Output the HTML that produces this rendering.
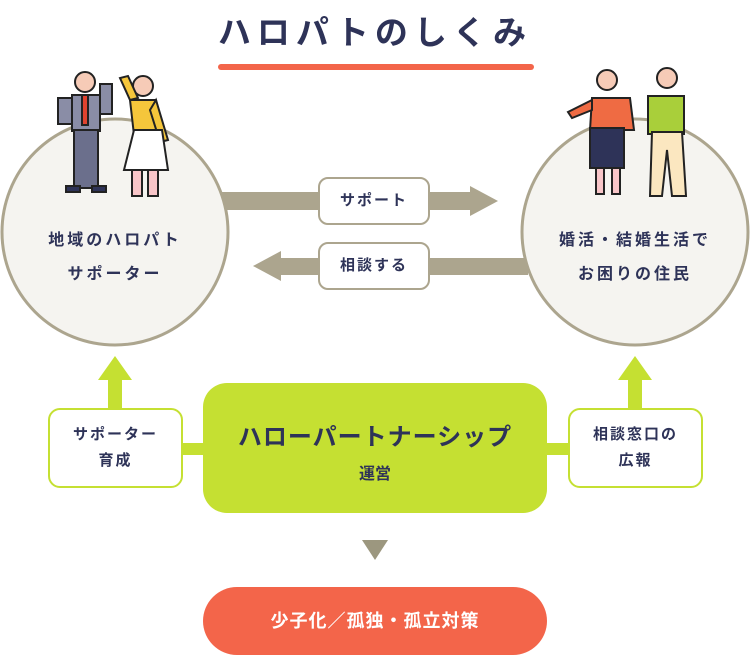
<!DOCTYPE html>
<html><head><meta charset="utf-8"><style>
body{margin:0;width:750px;height:658px;background:#fff;position:relative;overflow:hidden;font-family:"Liberation Sans","Noto Sans CJK JP",sans-serif;color:#2e3358;font-weight:bold}
.a{position:absolute}
.t{text-align:center}
</style></head><body>
<div class="a t" style="left:0;width:750px;top:6px;font-size:33px;letter-spacing:6px;color:#2e3358">ハロパトのしくみ</div>
<div class="a" style="left:218px;top:64px;width:316px;height:6px;border-radius:3px;background:#f3654a"></div>

<svg class="a" style="left:0;top:0" width="750" height="658">
 <rect x="222" y="192" width="250" height="18" fill="#aca58e"/>
 <polygon points="470,186 498,201 470,216" fill="#aca58e"/>
 <rect x="280" y="258" width="248" height="17" fill="#aca58e"/>
 <polygon points="281,251 253,266 281,281" fill="#aca58e"/>
 <circle cx="115" cy="232" r="113" fill="#f5f4f0" stroke="#aca58e" stroke-width="3"/>
 <circle cx="635" cy="232" r="113" fill="#f5f4f0" stroke="#aca58e" stroke-width="3"/>
 <rect x="180" y="443" width="30" height="12" fill="#c5e032"/>
 <rect x="540" y="443" width="32" height="12" fill="#c5e032"/>
 <rect x="108" y="378" width="14" height="32" fill="#c5e032"/>
 <polygon points="98,380 115,356 132,380" fill="#c5e032"/>
 <rect x="628" y="378" width="14" height="32" fill="#c5e032"/>
 <polygon points="618,380 635,356 652,380" fill="#c5e032"/>
 <polygon points="362,540 388,540 375,560" fill="#9c977f"/>
 <g stroke="#222" stroke-width="2">
  <circle cx="85" cy="82" r="10" fill="#f6cbb7"/>
  <rect x="72" y="95" width="28" height="36" fill="#8a8da6"/>
  <rect x="82" y="95" width="6" height="30" fill="#e0432f"/>
  <rect x="58" y="98" width="14" height="26" fill="#8a8da6"/>
  <rect x="100" y="84" width="12" height="30" fill="#8a8da6"/>
  <rect x="74" y="130" width="24" height="58" fill="#6b6f8c"/>
  <rect x="66" y="186" width="14" height="6" fill="#2e3358"/><rect x="92" y="186" width="14" height="6" fill="#2e3358"/>
  <circle cx="143" cy="86" r="10" fill="#f6cbb7"/>
  <path d="M130 100 L156 100 L164 135 L134 135 Z" fill="#f5c63b"/>
  <path d="M130 100 L120 78 L128 76 L138 98 Z" fill="#f5c63b"/>
  <path d="M156 100 L168 140 L160 142 L150 110 Z" fill="#f5c63b"/>
  <path d="M134 130 L162 130 L168 170 L124 170 Z" fill="#fff"/>
  <rect x="132" y="170" width="10" height="26" fill="#f8c5c8"/><rect x="148" y="170" width="10" height="26" fill="#f8c5c8"/>
 </g>
 <g stroke="#222" stroke-width="2">
  <circle cx="607" cy="80" r="10" fill="#f6cbb7"/>
  <path d="M592 98 L630 98 L634 130 L590 130 Z" fill="#ef6b43"/>
  <path d="M592 100 L568 112 L572 118 L592 110 Z" fill="#ef6b43"/>
  <rect x="590" y="128" width="34" height="40" fill="#2e3358"/>
  <rect x="596" y="168" width="8" height="26" fill="#f8c5c8"/><rect x="612" y="168" width="8" height="26" fill="#f8c5c8"/>
  <circle cx="667" cy="78" r="10" fill="#f6cbb7"/>
  <rect x="648" y="96" width="36" height="38" fill="#a9cf3a"/>
  <path d="M652 132 L682 132 L686 196 L672 196 L667 150 L662 196 L650 196 Z" fill="#fbe7c0"/>
 </g>
</svg>

<div class="a t" style="left:0;width:230px;top:224px;font-size:16px;line-height:34px;letter-spacing:3px">地域のハロパト<br>サポーター</div>
<div class="a t" style="left:520px;width:230px;top:224px;font-size:16px;line-height:34px;letter-spacing:3px">婚活・結婚生活で<br>お困りの住民</div>

<div class="a t" style="left:318px;top:177px;width:108px;height:44px;border:2px solid #aca58e;border-radius:10px;background:#fff;font-size:15px;line-height:44px;letter-spacing:2px">サポート</div>
<div class="a t" style="left:318px;top:242px;width:108px;height:44px;border:2px solid #aca58e;border-radius:10px;background:#fff;font-size:15px;line-height:44px;letter-spacing:2px">相談する</div>

<div class="a t" style="left:48px;top:408px;border:2px solid #c5e032;border-radius:12px;background:#fff;font-size:15px;line-height:26px;padding-top:12px;box-sizing:border-box;height:80px;width:135px;letter-spacing:2px">サポーター<br>育成</div>
<div class="a t" style="left:568px;top:408px;width:135px;height:80px;border:2px solid #c5e032;border-radius:12px;background:#fff;font-size:15px;line-height:26px;padding-top:12px;box-sizing:border-box;letter-spacing:2px">相談窓口の<br>広報</div>

<div class="a t" style="left:203px;top:383px;width:344px;height:130px;border-radius:24px;background:#c5e032">
 <div style="font-size:24px;margin-top:34px;letter-spacing:1px">ハローパートナーシップ</div>
 <div style="font-size:16px;margin-top:8px">運営</div>
</div>

<div class="a t" style="left:203px;top:587px;width:344px;height:68px;border-radius:34px;background:#f3654a;color:#fff;font-size:18px;line-height:68px;letter-spacing:1px">少子化／孤独・孤立対策</div>
</body></html>
